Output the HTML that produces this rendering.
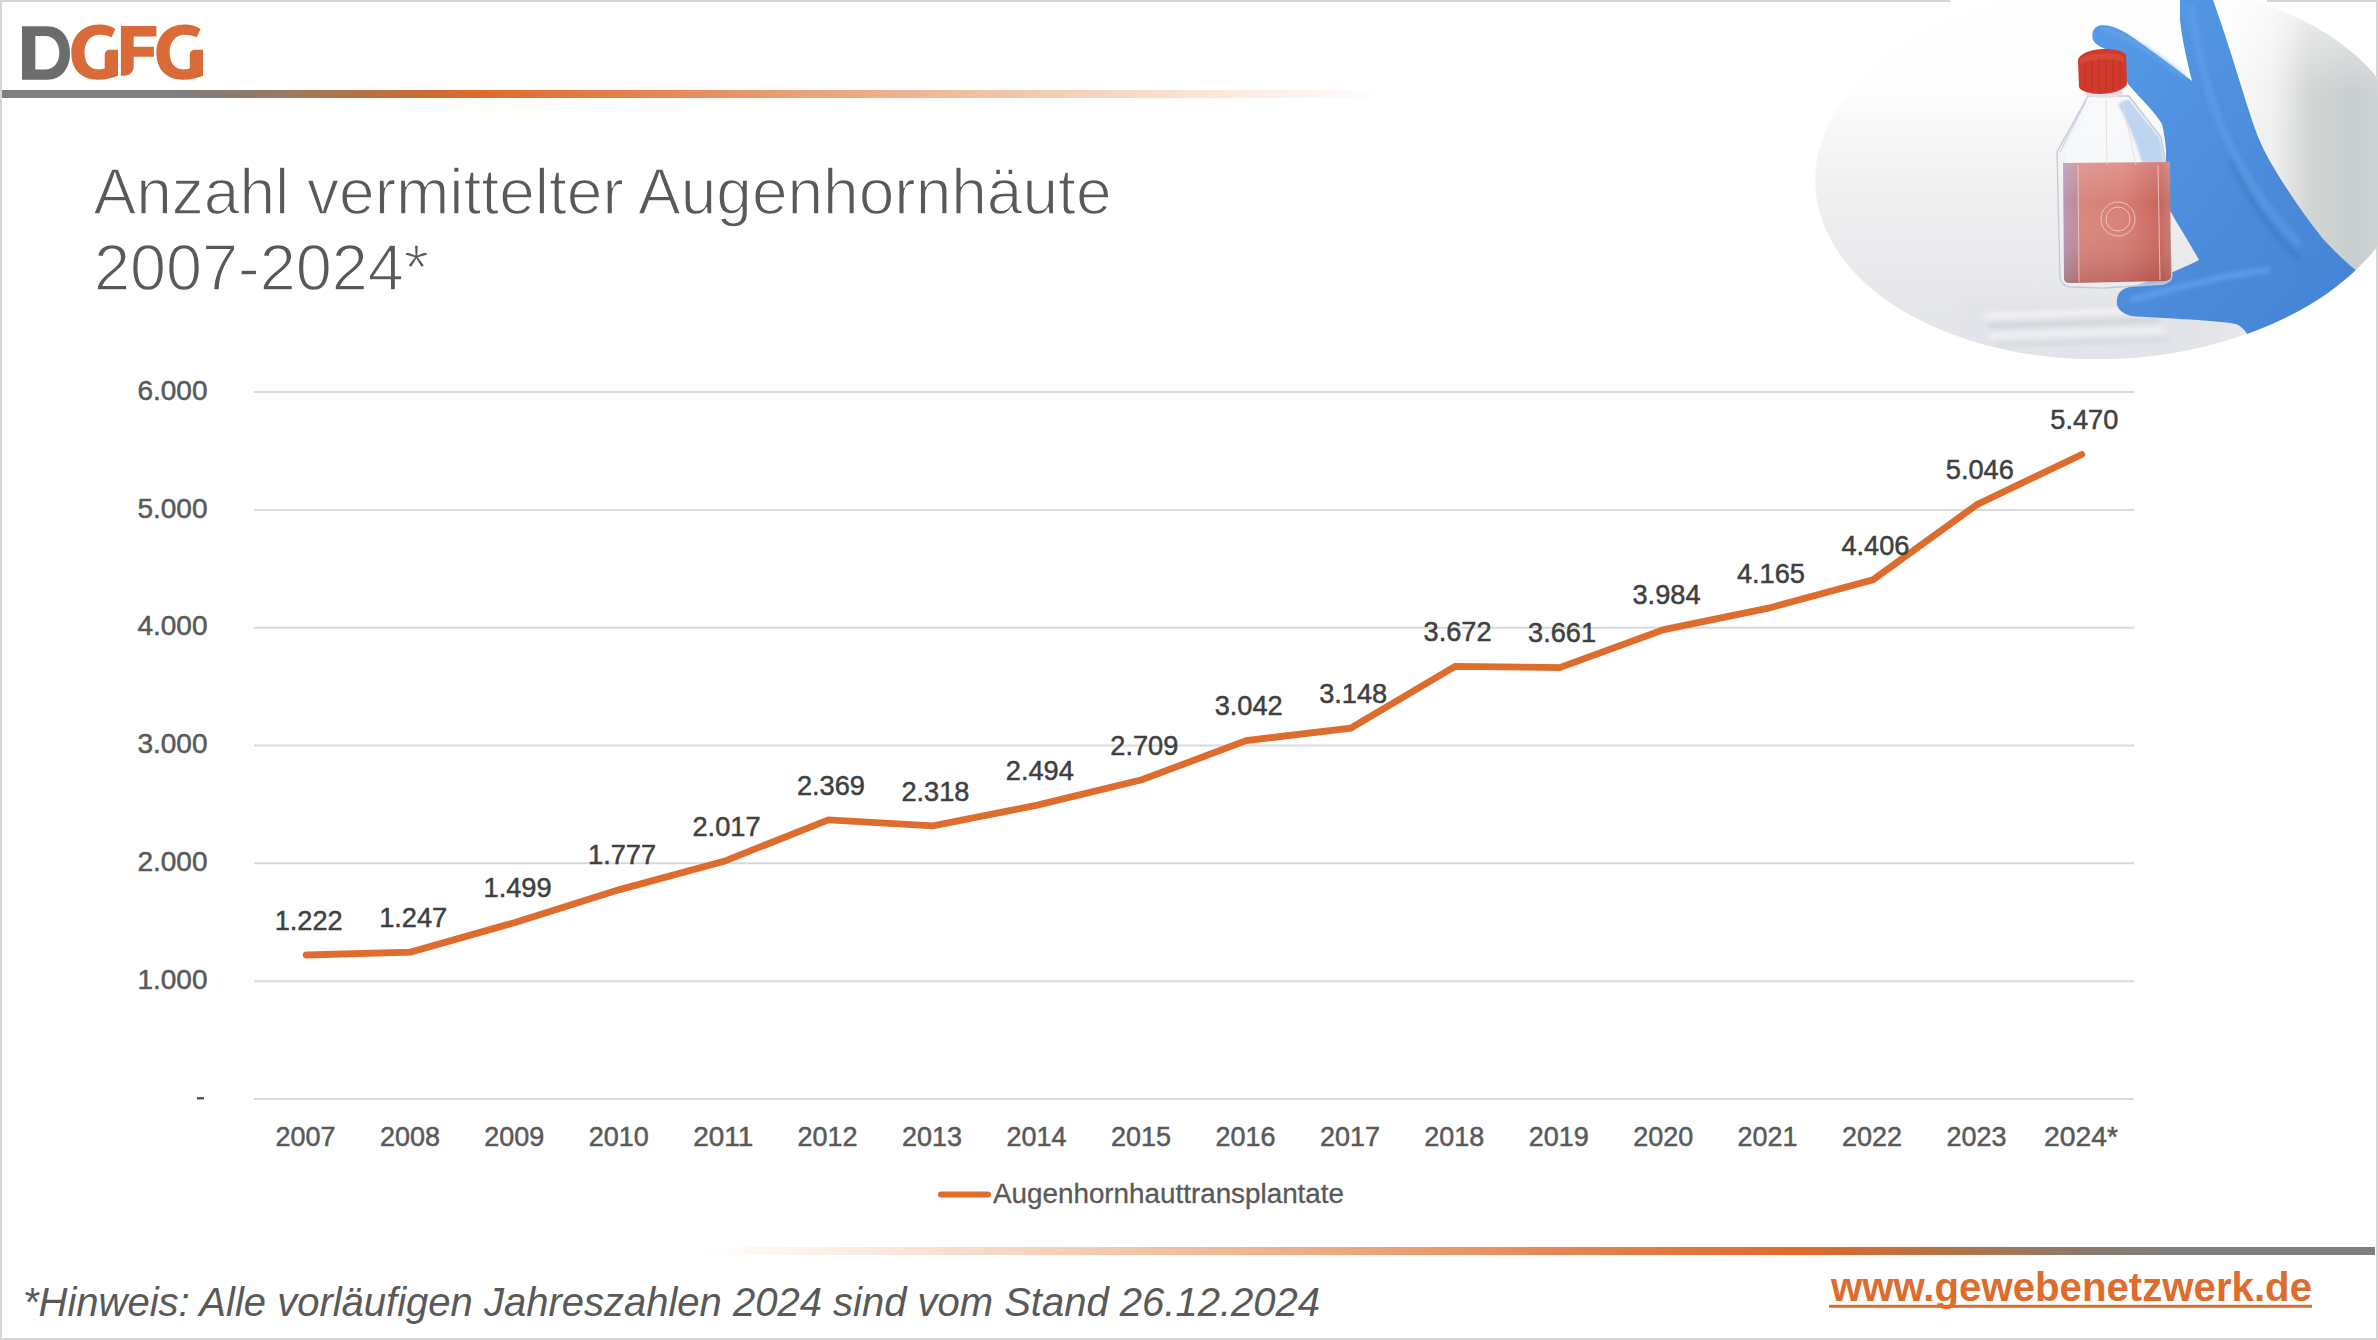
<!DOCTYPE html>
<html><head><meta charset="utf-8">
<style>
html,body{margin:0;padding:0;}
body{width:2378px;height:1340px;overflow:hidden;background:#fff;position:relative;font-family:"Liberation Sans",sans-serif;}
.frame{position:absolute;left:0;top:0;width:2374px;height:1336px;border:2px solid #d6d6d6;}
.topline{position:absolute;left:2px;top:90px;width:1380px;height:8px;
 background:linear-gradient(90deg,#7f7f7f 0%,#7f7f7f 12.5%,#8a7a6c 17.5%,#a27858 22%,#b87240 26.6%,#cf6c33 31.2%,#dd6a2b 34.5%,#e2814a 45%,#eba67e 60%,#f3cdb2 76%,#fbece2 90%,rgba(255,255,255,0) 100%);}
.botline{position:absolute;left:700px;top:1247px;width:1675px;height:8px;
 background:linear-gradient(270deg,#7f7f7f 0%,#7f7f7f 12%,#8a7a6c 17%,#a27858 22%,#b87240 26.5%,#cf6c33 31%,#dd6a2b 34.3%,#e2814a 46%,#eba67e 61%,#f3cdb2 77%,#fbece2 91%,rgba(255,255,255,0) 100%);}
svg{position:absolute;left:0;top:0;}
</style></head><body>
<div class="frame"></div>
<div class="topline"></div>
<div class="botline"></div>

<svg width="2378" height="1340" viewBox="0 0 2378 1340">
<g>
<path fill="#6a6d69" d="M22,26.2 L47,26.2 C62,26.2 70,38 70,53 C70,68 62,79.7 47,79.7 L22,79.7 Z M35.3,36 L45,36 C54,36 59.3,43 59.3,52.7 C59.3,62.5 54,69.4 45,69.4 L35.3,69.4 Z" fill-rule="evenodd"/>
<path id="g1" fill="#d96b39" d="M115.4,29 C110,25.5 105,24.6 99,24.6 C83,24.6 71.3,36 71.3,53 C71.3,70 82,79.7 98,79.7 C106,79.7 113,78 118,75.7 L118,49.8 L110,49.8 C106,49.8 104.7,52 104.7,55.5 L104.7,68.5 C103,69 100.5,69.4 98,69.4 C90,69.4 84.5,63 84.5,52.5 C84.5,42 90.5,34.7 99.5,34.7 C104,34.7 108.5,35.8 111.6,37.2 Z"/>
<path fill="#d96b39" d="M120.9,25.9 L156.4,25.9 L156.4,36.6 L133.7,36.6 L133.7,46.7 L153.9,46.7 L153.9,56.8 L133.7,56.8 L133.7,66 C133.7,72 130,75.7 124,75.7 L120.9,75.7 Z"/>
<use href="#g1" x="85.1" y="0"/>
</g>
<text x="93.5" y="214" font-size="65" fill="#595959" stroke="#ffffff" stroke-width="1.5" textLength="1018" lengthAdjust="spacingAndGlyphs">Anzahl vermittelter Augenhornhäute</text>
<text x="94" y="289.6" font-size="65" fill="#595959" stroke="#ffffff" stroke-width="1.5" textLength="335" lengthAdjust="spacingAndGlyphs">2007-2024*</text>
<line x1="254" y1="1099.0" x2="2134" y2="1099.0" stroke="#d9d9d9" stroke-width="2"/>
<line x1="254" y1="981.2" x2="2134" y2="981.2" stroke="#d9d9d9" stroke-width="2"/>
<line x1="254" y1="863.3" x2="2134" y2="863.3" stroke="#d9d9d9" stroke-width="2"/>
<line x1="254" y1="745.5" x2="2134" y2="745.5" stroke="#d9d9d9" stroke-width="2"/>
<line x1="254" y1="627.7" x2="2134" y2="627.7" stroke="#d9d9d9" stroke-width="2"/>
<line x1="254" y1="509.9" x2="2134" y2="509.9" stroke="#d9d9d9" stroke-width="2"/>
<line x1="254" y1="392.0" x2="2134" y2="392.0" stroke="#d9d9d9" stroke-width="2"/>
<text x="207.5" y="988.9" font-size="28" fill="#595959" stroke="#595959" stroke-width="0.5" text-anchor="end">1.000</text>
<text x="207.5" y="871.0" font-size="28" fill="#595959" stroke="#595959" stroke-width="0.5" text-anchor="end">2.000</text>
<text x="207.5" y="753.2" font-size="28" fill="#595959" stroke="#595959" stroke-width="0.5" text-anchor="end">3.000</text>
<text x="207.5" y="635.4" font-size="28" fill="#595959" stroke="#595959" stroke-width="0.5" text-anchor="end">4.000</text>
<text x="207.5" y="517.6" font-size="28" fill="#595959" stroke="#595959" stroke-width="0.5" text-anchor="end">5.000</text>
<text x="207.5" y="399.7" font-size="28" fill="#595959" stroke="#595959" stroke-width="0.5" text-anchor="end">6.000</text>
<rect x="197" y="1097" width="7" height="2.5" fill="#595959"/>
<polyline points="306.2,955.0 410.7,952.1 515.1,922.4 619.6,889.6 724.0,861.3 828.4,819.9 932.9,825.9 1037.3,805.1 1141.8,779.8 1246.2,740.6 1350.7,728.1 1455.1,666.3 1559.6,667.6 1664.0,629.6 1768.4,608.2 1872.9,579.8 1977.3,504.4 2081.8,454.5" fill="none" stroke="#dd6c2d" stroke-width="6.8" stroke-linecap="round" stroke-linejoin="miter"/>
<text x="308.7" y="929.8" font-size="28" fill="#404040" stroke="#404040" stroke-width="0.5" text-anchor="middle" textLength="68" lengthAdjust="spacingAndGlyphs">1.222</text>
<text x="413.2" y="926.9" font-size="28" fill="#404040" stroke="#404040" stroke-width="0.5" text-anchor="middle" textLength="68" lengthAdjust="spacingAndGlyphs">1.247</text>
<text x="517.6" y="897.2" font-size="28" fill="#404040" stroke="#404040" stroke-width="0.5" text-anchor="middle" textLength="68" lengthAdjust="spacingAndGlyphs">1.499</text>
<text x="622.1" y="864.4" font-size="28" fill="#404040" stroke="#404040" stroke-width="0.5" text-anchor="middle" textLength="68" lengthAdjust="spacingAndGlyphs">1.777</text>
<text x="726.5" y="836.1" font-size="28" fill="#404040" stroke="#404040" stroke-width="0.5" text-anchor="middle" textLength="68" lengthAdjust="spacingAndGlyphs">2.017</text>
<text x="830.9" y="794.7" font-size="28" fill="#404040" stroke="#404040" stroke-width="0.5" text-anchor="middle" textLength="68" lengthAdjust="spacingAndGlyphs">2.369</text>
<text x="935.4" y="800.7" font-size="28" fill="#404040" stroke="#404040" stroke-width="0.5" text-anchor="middle" textLength="68" lengthAdjust="spacingAndGlyphs">2.318</text>
<text x="1039.8" y="779.9" font-size="28" fill="#404040" stroke="#404040" stroke-width="0.5" text-anchor="middle" textLength="68" lengthAdjust="spacingAndGlyphs">2.494</text>
<text x="1144.3" y="754.6" font-size="28" fill="#404040" stroke="#404040" stroke-width="0.5" text-anchor="middle" textLength="68" lengthAdjust="spacingAndGlyphs">2.709</text>
<text x="1248.7" y="715.4" font-size="28" fill="#404040" stroke="#404040" stroke-width="0.5" text-anchor="middle" textLength="68" lengthAdjust="spacingAndGlyphs">3.042</text>
<text x="1353.2" y="702.9" font-size="28" fill="#404040" stroke="#404040" stroke-width="0.5" text-anchor="middle" textLength="68" lengthAdjust="spacingAndGlyphs">3.148</text>
<text x="1457.6" y="641.1" font-size="28" fill="#404040" stroke="#404040" stroke-width="0.5" text-anchor="middle" textLength="68" lengthAdjust="spacingAndGlyphs">3.672</text>
<text x="1562.1" y="642.4" font-size="28" fill="#404040" stroke="#404040" stroke-width="0.5" text-anchor="middle" textLength="68" lengthAdjust="spacingAndGlyphs">3.661</text>
<text x="1666.5" y="604.4" font-size="28" fill="#404040" stroke="#404040" stroke-width="0.5" text-anchor="middle" textLength="68" lengthAdjust="spacingAndGlyphs">3.984</text>
<text x="1770.9" y="583.0" font-size="28" fill="#404040" stroke="#404040" stroke-width="0.5" text-anchor="middle" textLength="68" lengthAdjust="spacingAndGlyphs">4.165</text>
<text x="1875.4" y="554.6" font-size="28" fill="#404040" stroke="#404040" stroke-width="0.5" text-anchor="middle" textLength="68" lengthAdjust="spacingAndGlyphs">4.406</text>
<text x="1979.8" y="479.2" font-size="28" fill="#404040" stroke="#404040" stroke-width="0.5" text-anchor="middle" textLength="68" lengthAdjust="spacingAndGlyphs">5.046</text>
<text x="2084.3" y="429.3" font-size="28" fill="#404040" stroke="#404040" stroke-width="0.5" text-anchor="middle" textLength="68" lengthAdjust="spacingAndGlyphs">5.470</text>
<text x="305.4" y="1145.7" font-size="28" fill="#595959" stroke="#595959" stroke-width="0.5" text-anchor="middle" textLength="60" lengthAdjust="spacingAndGlyphs">2007</text>
<text x="409.9" y="1145.7" font-size="28" fill="#595959" stroke="#595959" stroke-width="0.5" text-anchor="middle" textLength="60" lengthAdjust="spacingAndGlyphs">2008</text>
<text x="514.3" y="1145.7" font-size="28" fill="#595959" stroke="#595959" stroke-width="0.5" text-anchor="middle" textLength="60" lengthAdjust="spacingAndGlyphs">2009</text>
<text x="618.8" y="1145.7" font-size="28" fill="#595959" stroke="#595959" stroke-width="0.5" text-anchor="middle" textLength="60" lengthAdjust="spacingAndGlyphs">2010</text>
<text x="723.2" y="1145.7" font-size="28" fill="#595959" stroke="#595959" stroke-width="0.5" text-anchor="middle" textLength="60" lengthAdjust="spacingAndGlyphs">2011</text>
<text x="827.6" y="1145.7" font-size="28" fill="#595959" stroke="#595959" stroke-width="0.5" text-anchor="middle" textLength="60" lengthAdjust="spacingAndGlyphs">2012</text>
<text x="932.1" y="1145.7" font-size="28" fill="#595959" stroke="#595959" stroke-width="0.5" text-anchor="middle" textLength="60" lengthAdjust="spacingAndGlyphs">2013</text>
<text x="1036.5" y="1145.7" font-size="28" fill="#595959" stroke="#595959" stroke-width="0.5" text-anchor="middle" textLength="60" lengthAdjust="spacingAndGlyphs">2014</text>
<text x="1141.0" y="1145.7" font-size="28" fill="#595959" stroke="#595959" stroke-width="0.5" text-anchor="middle" textLength="60" lengthAdjust="spacingAndGlyphs">2015</text>
<text x="1245.4" y="1145.7" font-size="28" fill="#595959" stroke="#595959" stroke-width="0.5" text-anchor="middle" textLength="60" lengthAdjust="spacingAndGlyphs">2016</text>
<text x="1349.9" y="1145.7" font-size="28" fill="#595959" stroke="#595959" stroke-width="0.5" text-anchor="middle" textLength="60" lengthAdjust="spacingAndGlyphs">2017</text>
<text x="1454.3" y="1145.7" font-size="28" fill="#595959" stroke="#595959" stroke-width="0.5" text-anchor="middle" textLength="60" lengthAdjust="spacingAndGlyphs">2018</text>
<text x="1558.8" y="1145.7" font-size="28" fill="#595959" stroke="#595959" stroke-width="0.5" text-anchor="middle" textLength="60" lengthAdjust="spacingAndGlyphs">2019</text>
<text x="1663.2" y="1145.7" font-size="28" fill="#595959" stroke="#595959" stroke-width="0.5" text-anchor="middle" textLength="60" lengthAdjust="spacingAndGlyphs">2020</text>
<text x="1767.6" y="1145.7" font-size="28" fill="#595959" stroke="#595959" stroke-width="0.5" text-anchor="middle" textLength="60" lengthAdjust="spacingAndGlyphs">2021</text>
<text x="1872.1" y="1145.7" font-size="28" fill="#595959" stroke="#595959" stroke-width="0.5" text-anchor="middle" textLength="60" lengthAdjust="spacingAndGlyphs">2022</text>
<text x="1976.5" y="1145.7" font-size="28" fill="#595959" stroke="#595959" stroke-width="0.5" text-anchor="middle" textLength="60" lengthAdjust="spacingAndGlyphs">2023</text>
<text x="2081.0" y="1145.7" font-size="28" fill="#595959" stroke="#595959" stroke-width="0.5" text-anchor="middle" textLength="74" lengthAdjust="spacingAndGlyphs">2024*</text>
<line x1="941" y1="1194.6" x2="988" y2="1194.6" stroke="#dd6c2d" stroke-width="6" stroke-linecap="round"/>
<text x="993" y="1202.9" font-size="27" fill="#595959" stroke="#595959" stroke-width="0.3" textLength="351" lengthAdjust="spacingAndGlyphs">Augenhornhauttransplantate</text>
<text x="23" y="1315.5" font-size="40" font-style="italic" fill="#595959" textLength="1297" lengthAdjust="spacingAndGlyphs">*Hinweis: Alle vorläufigen Jahreszahlen 2024 sind vom Stand 26.12.2024</text>
<text x="1831" y="1300.5" font-size="40" font-weight="bold" fill="#dd6c2d" textLength="481" lengthAdjust="spacingAndGlyphs">www.gewebenetzwerk.de</text>
<rect x="1829" y="1304.8" width="483" height="3" fill="#dd6c2d"/>
</svg>
<svg width="2378" height="1340" viewBox="0 0 2378 1340">
<defs>
<clipPath id="ell"><ellipse cx="2112" cy="170.7" rx="297" ry="188" transform="rotate(-3.05 2112 170.7)"/></clipPath>
<linearGradient id="bgv" x1="0" y1="0" x2="0" y2="1"><stop offset="0" stop-color="#ffffff"/><stop offset="0.3" stop-color="#fdfdfd"/><stop offset="0.55" stop-color="#efeff0"/><stop offset="0.8" stop-color="#e6e7ea"/><stop offset="1" stop-color="#e1e2e6"/></linearGradient>
<linearGradient id="bgr" x1="0" y1="0" x2="1" y2="0"><stop offset="0" stop-color="#f0f0ee" stop-opacity="0"/><stop offset="0.33" stop-color="#eeeeec" stop-opacity="0.75"/><stop offset="0.55" stop-color="#d2d6d4"/><stop offset="0.8" stop-color="#c8cecf"/><stop offset="1" stop-color="#cfd4d5"/></linearGradient>
<linearGradient id="bgrv" x1="0" y1="0" x2="0" y2="1"><stop offset="0" stop-color="#ffffff" stop-opacity="0.85"/><stop offset="0.3" stop-color="#ffffff" stop-opacity="0"/></linearGradient>
<linearGradient id="glove" x1="0" y1="0" x2="1" y2="1"><stop offset="0" stop-color="#579be8"/><stop offset="0.5" stop-color="#4c8bda"/><stop offset="1" stop-color="#4281d2"/></linearGradient>
<linearGradient id="liq" x1="0" y1="0" x2="1" y2="0"><stop offset="0" stop-color="#b49ab4"/><stop offset="0.12" stop-color="#bf8a98"/><stop offset="0.15" stop-color="#d8867e"/><stop offset="0.55" stop-color="#d77e74"/><stop offset="0.9" stop-color="#c9655c"/><stop offset="1" stop-color="#c47a74"/></linearGradient>
<linearGradient id="liqv" x1="0" y1="0" x2="0" y2="1"><stop offset="0" stop-color="#ffffff" stop-opacity="0.18"/><stop offset="0.35" stop-color="#ffffff" stop-opacity="0"/><stop offset="1" stop-color="#7a2020" stop-opacity="0.25"/></linearGradient>
<filter id="blur2"><feGaussianBlur stdDeviation="2"/></filter>
<filter id="blur1"><feGaussianBlur stdDeviation="0.8"/></filter>
</defs>
<rect x="1950" y="0" width="317" height="4" fill="#ffffff"/>
<g clip-path="url(#ell)">
<rect x="1800" y="-30" width="600" height="410" fill="url(#bgv)"/>
<rect x="2215" y="-30" width="170" height="410" fill="url(#bgr)"/>
<rect x="2215" y="-30" width="170" height="410" fill="url(#bgrv)"/>
<g filter="url(#blur2)" opacity="0.9">
<rect x="1960" y="298" width="240" height="60" fill="#e2e4e9"/>
<path d="M1984,316 L2150,310" stroke="#f8f8fa" stroke-width="4"/>
<path d="M1988,326 L2160,320" stroke="#c9cdd8" stroke-width="4"/>
<path d="M1990,336 L2165,330" stroke="#f4f5f7" stroke-width="4"/>
<path d="M1995,345 L2170,340" stroke="#cdd1da" stroke-width="3"/>
</g>
<path fill="url(#glove)" d="M2180,0 L2213,0 C2222,25 2234,62 2240,82.5 C2248,108 2256,135 2264,150 C2275,172 2300,210 2322,237.7 C2335,252 2348,264 2358,272 L2400,300 L2400,390 L2250,390 L2248,335 C2242,326 2238,324 2230,323 C2210,320 2160,318 2131,316 C2121,313 2116.5,308 2116.8,302 C2117,294 2121,289 2128,287.5 C2150,282 2175,272 2199,260 C2188,240 2176,222 2168,207 C2167,190 2166,170 2166,150 C2165,140 2164,132 2162,124 C2155,112 2140,98 2128,84 C2122,70 2118,58 2112,52 C2104,48 2096,46 2093,40 C2091,32 2094,27 2100,25.5 C2112,24 2126,32 2139,42 C2155,53 2175,68 2192,81 C2188,65 2182,40 2180,20 Z"/>
<g filter="url(#blur2)">
<path d="M2100,30 C2120,30 2150,50 2185,78" stroke="#6aa8ee" stroke-width="4" fill="none" opacity="0.7"/>
<path d="M2190,5 C2196,40 2205,80 2215,110 C2230,150 2255,200 2300,245" stroke="#62a2ea" stroke-width="8" fill="none" opacity="0.5"/>
<path d="M2130,300 C2170,290 2220,275 2270,270" stroke="#6aaaf0" stroke-width="6" fill="none" opacity="0.6"/>
<path d="M2230,160 C2250,200 2270,230 2300,260" stroke="#3a70c0" stroke-width="5" fill="none" opacity="0.5"/>
</g>
<path fill="#f2f4f7" fill-opacity="0.5" stroke="#c3cad4" stroke-width="1.3" d="M2088,96 L2129,96 L2161,137 L2165,160 L2172,275 C2172,280 2168,283 2163,284 L2104,288 L2070,287 C2064,286 2060,282 2060,276 L2057,152 Z"/>
<path fill="#ffffff" fill-opacity="0.35" d="M2066,150 L2092,103 L2126,103 L2154,140 L2158,163 L2066,165 Z"/>
<path fill="#8fb8e8" fill-opacity="0.55" filter="url(#blur1)" d="M2118,104 L2128,99 L2160,138 L2164,163 L2142,163 C2136,140 2126,120 2118,104 Z"/>
<path d="M2063,163 L2170,162 L2171,276 C2171,279 2168,281 2164,281 L2070,283 C2066,283 2064,281 2064,278 Z" fill="url(#liq)"/>
<path d="M2063,163 L2170,162 L2171,276 C2171,279 2168,281 2164,281 L2070,283 C2066,283 2064,281 2064,278 Z" fill="url(#liqv)"/>
<g stroke="#f0d4d0" stroke-width="1" fill="none" opacity="0.8">
<line x1="2078" y1="165" x2="2079" y2="282"/>
<line x1="2106" y1="100" x2="2107" y2="165"/>
<line x1="2122" y1="100" x2="2136" y2="165"/>
<line x1="2158" y1="165" x2="2160" y2="280"/>
<circle cx="2118" cy="219" r="17"/>
<circle cx="2118" cy="219" r="12"/>
</g>
<line x1="2060" y1="152" x2="2086" y2="101" stroke="#d0d8e2" stroke-width="1.5"/>
<ellipse cx="2104" cy="93" rx="19" ry="5" fill="#eddde6"/>
<path fill="#cf3a2b" d="M2078,60 C2080,52 2095,49 2104,49 C2114,49 2124,51 2126,55 L2127,84 C2125,90 2112,94 2100,94 C2090,94 2080,91 2079,87 Z"/>
<path fill="#e0503c" opacity="0.6" d="M2080,58 C2090,53 2115,52 2124,56 L2124,62 C2110,58 2092,59 2080,64 Z"/>
<g stroke="#a82a20" stroke-width="1" opacity="0.5">
<line x1="2085" y1="62" x2="2085" y2="88"/><line x1="2092" y1="60" x2="2092" y2="91"/><line x1="2099" y1="59" x2="2099" y2="92"/><line x1="2106" y1="59" x2="2106" y2="92"/><line x1="2113" y1="59" x2="2113" y2="91"/><line x1="2120" y1="60" x2="2120" y2="88"/>
</g>
</g>
</svg>

</body></html>
